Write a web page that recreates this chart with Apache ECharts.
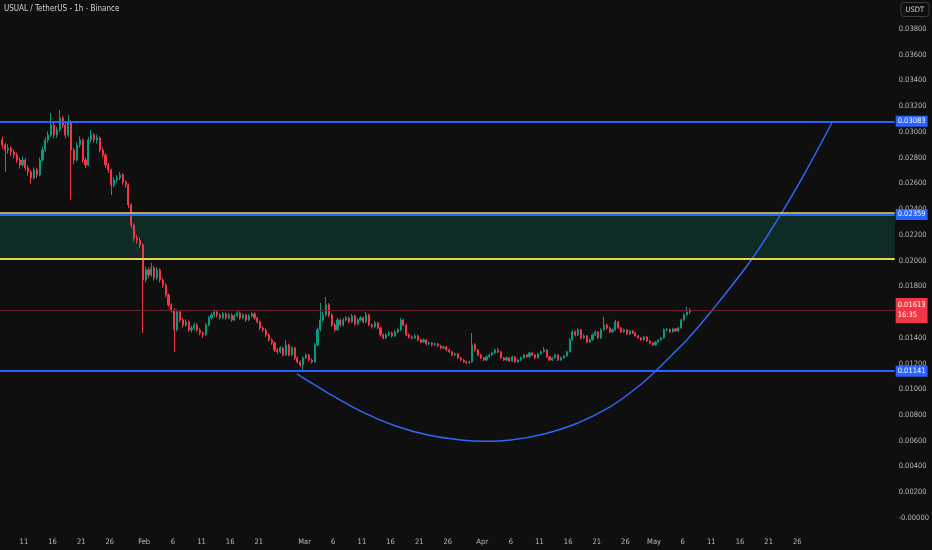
<!DOCTYPE html>
<html><head><meta charset="utf-8">
<script src="https://cdn.jsdelivr.net/npm/echarts@6/dist/echarts.min.js"></script>
<style>html,body{margin:0;padding:0;background:#0f0f0f;}#c{width:932px;height:550px;}</style>
</head><body><div id="c"></div>
<script>
// Time is expressed in days since 1 Jan 2025 (Jan 1 = 0). Candles are 12h aggregates.
const FIRST_CANDLE_DAY = 6.25;
const CANDLE_STEP = 0.5;

const opens = [
0.02938,0.02899,0.02860,0.02876,0.02844,0.02821,0.02782,0.02743,0.02782,0.02720,
0.02689,0.02642,0.02705,0.02666,0.02782,0.02860,0.02938,0.02976,0.03054,0.02976,
0.03015,0.03109,0.03054,0.02976,0.03078,0.02860,0.02782,0.02899,0.02938,0.02782,
0.02743,0.02938,0.02976,0.02938,0.02953,0.02860,0.02821,0.02743,0.02705,0.02588,
0.02627,0.02642,0.02666,0.02611,0.02588,0.02433,0.02277,0.02176,0.02161,0.02122,
0.01850,0.01928,0.01889,0.01943,0.01866,0.01928,0.01850,0.01811,0.01733,0.01656,
0.01617,0.01462,0.01601,0.01539,0.01500,0.01524,0.01462,0.01477,0.01500,0.01462,
0.01438,0.01423,0.01500,0.01555,0.01578,0.01601,0.01578,0.01555,0.01586,0.01555,
0.01578,0.01539,0.01570,0.01593,0.01555,0.01578,0.01539,0.01570,0.01586,0.01555,
0.01524,0.01477,0.01462,0.01423,0.01384,0.01360,0.01306,0.01291,0.01322,0.01267,
0.01345,0.01267,0.01322,0.01244,0.01213,0.01189,0.01244,0.01267,0.01228,0.01213,
0.01345,0.01462,0.01539,0.01578,0.01656,0.01578,0.01500,0.01462,0.01539,0.01500,
0.01539,0.01555,0.01524,0.01570,0.01508,0.01539,0.01555,0.01524,0.01578,0.01500,
0.01485,0.01516,0.01477,0.01423,0.01399,0.01423,0.01438,0.01415,0.01446,0.01462,
0.01539,0.01500,0.01423,0.01407,0.01399,0.01415,0.01384,0.01368,0.01384,0.01353,
0.01360,0.01345,0.01353,0.01337,0.01322,0.01329,0.01306,0.01291,0.01267,0.01275,
0.01244,0.01228,0.01213,0.01205,0.01213,0.01345,0.01306,0.01267,0.01244,0.01228,
0.01252,0.01267,0.01283,0.01306,0.01291,0.01244,0.01228,0.01244,0.01220,0.01252,
0.01213,0.01228,0.01244,0.01267,0.01252,0.01283,0.01267,0.01244,0.01275,0.01291,
0.01306,0.01252,0.01228,0.01244,0.01267,0.01228,0.01244,0.01259,0.01291,0.01384,
0.01446,0.01423,0.01462,0.01399,0.01415,0.01368,0.01384,0.01423,0.01446,0.01399,
0.01462,0.01500,0.01477,0.01446,0.01462,0.01524,0.01477,0.01446,0.01462,0.01430,
0.01454,0.01438,0.01415,0.01399,0.01384,0.01407,0.01376,0.01360,0.01345,0.01368,
0.01384,0.01399,0.01462,0.01465,0.01446,0.01469,0.01454,0.01477,0.01539,0.01578,
0.01601
];
const closes = [
0.02899,0.02860,0.02876,0.02844,0.02821,0.02782,0.02743,0.02782,0.02720,0.02689,
0.02642,0.02705,0.02666,0.02782,0.02860,0.02938,0.02976,0.03054,0.02976,0.03015,
0.03109,0.03054,0.02976,0.03078,0.02860,0.02782,0.02899,0.02938,0.02782,0.02743,
0.02938,0.02976,0.02938,0.02953,0.02860,0.02821,0.02743,0.02705,0.02588,0.02627,
0.02642,0.02666,0.02611,0.02588,0.02433,0.02277,0.02176,0.02161,0.02122,0.01850,
0.01928,0.01889,0.01943,0.01866,0.01928,0.01850,0.01811,0.01733,0.01656,0.01617,
0.01462,0.01601,0.01539,0.01500,0.01524,0.01462,0.01477,0.01500,0.01462,0.01438,
0.01423,0.01500,0.01555,0.01578,0.01601,0.01578,0.01555,0.01586,0.01555,0.01578,
0.01539,0.01570,0.01593,0.01555,0.01578,0.01539,0.01570,0.01586,0.01555,0.01524,
0.01477,0.01462,0.01423,0.01384,0.01360,0.01306,0.01291,0.01322,0.01267,0.01345,
0.01267,0.01322,0.01244,0.01213,0.01189,0.01244,0.01267,0.01228,0.01213,0.01345,
0.01462,0.01539,0.01578,0.01656,0.01578,0.01500,0.01462,0.01539,0.01500,0.01539,
0.01555,0.01524,0.01570,0.01508,0.01539,0.01555,0.01524,0.01578,0.01500,0.01485,
0.01516,0.01477,0.01423,0.01399,0.01423,0.01438,0.01415,0.01446,0.01462,0.01539,
0.01500,0.01423,0.01407,0.01399,0.01415,0.01384,0.01368,0.01384,0.01353,0.01360,
0.01345,0.01353,0.01337,0.01322,0.01329,0.01306,0.01291,0.01267,0.01275,0.01244,
0.01228,0.01213,0.01205,0.01213,0.01345,0.01306,0.01267,0.01244,0.01228,0.01252,
0.01267,0.01283,0.01306,0.01291,0.01244,0.01228,0.01244,0.01220,0.01252,0.01213,
0.01228,0.01244,0.01267,0.01252,0.01283,0.01267,0.01244,0.01275,0.01291,0.01306,
0.01252,0.01228,0.01244,0.01267,0.01228,0.01244,0.01259,0.01291,0.01384,0.01446,
0.01423,0.01462,0.01399,0.01415,0.01368,0.01384,0.01423,0.01446,0.01399,0.01462,
0.01500,0.01477,0.01446,0.01462,0.01524,0.01477,0.01446,0.01462,0.01430,0.01454,
0.01438,0.01415,0.01399,0.01384,0.01407,0.01376,0.01360,0.01345,0.01368,0.01384,
0.01399,0.01462,0.01465,0.01446,0.01469,0.01454,0.01477,0.01539,0.01578,0.01601,
0.01613
];
const lows = [
0.02870,0.02689,0.02830,0.02815,0.02795,0.02760,0.02715,0.02730,0.02700,0.02660,
0.02596,0.02630,0.02640,0.02655,0.02770,0.02845,0.02915,0.02960,0.02950,0.02955,
0.03000,0.03030,0.02950,0.02960,0.02472,0.02750,0.02770,0.02880,0.02760,0.02720,
0.02735,0.02920,0.02915,0.02910,0.02840,0.02800,0.02720,0.02680,0.02510,0.02570,
0.02605,0.02625,0.02590,0.02565,0.02410,0.02250,0.02150,0.02130,0.02095,0.01438,
0.01830,0.01865,0.01875,0.01845,0.01850,0.01830,0.01790,0.01715,0.01640,0.01595,
0.01291,0.01450,0.01520,0.01480,0.01485,0.01445,0.01440,0.01460,0.01445,0.01420,
0.01399,0.01415,0.01490,0.01540,0.01565,0.01560,0.01540,0.01545,0.01540,0.01545,
0.01525,0.01530,0.01560,0.01540,0.01545,0.01525,0.01530,0.01560,0.01540,0.01510,
0.01460,0.01445,0.01405,0.01370,0.01345,0.01290,0.01275,0.01280,0.01255,0.01260,
0.01255,0.01260,0.01230,0.01200,0.01175,0.01143,0.01235,0.01215,0.01200,0.01205,
0.01335,0.01450,0.01525,0.01565,0.01560,0.01485,0.01445,0.01455,0.01488,0.01490,
0.01528,0.01512,0.01515,0.01495,0.01498,0.01528,0.01512,0.01515,0.01490,0.01472,
0.01475,0.01465,0.01410,0.01388,0.01390,0.01412,0.01402,0.01405,0.01435,0.01452,
0.01488,0.01412,0.01395,0.01388,0.01390,0.01372,0.01358,0.01360,0.01342,0.01345,
0.01335,0.01338,0.01328,0.01312,0.01315,0.01296,0.01282,0.01258,0.01260,0.01235,
0.01218,0.01205,0.01196,0.01198,0.01206,0.01295,0.01258,0.01235,0.01220,0.01220,
0.01245,0.01258,0.01275,0.01282,0.01236,0.01220,0.01220,0.01212,0.01214,0.01205,
0.01206,0.01222,0.01238,0.01244,0.01246,0.01258,0.01236,0.01238,0.01268,0.01285,
0.01244,0.01220,0.01220,0.01238,0.01220,0.01222,0.01238,0.01252,0.01285,0.01376,
0.01410,0.01415,0.01388,0.01390,0.01358,0.01360,0.01378,0.01415,0.01390,0.01392,
0.01455,0.01465,0.01436,0.01440,0.01455,0.01468,0.01438,0.01440,0.01422,0.01424,
0.01430,0.01408,0.01392,0.01376,0.01378,0.01368,0.01352,0.01338,0.01340,0.01362,
0.01378,0.01392,0.01450,0.01438,0.01440,0.01446,0.01448,0.01470,0.01530,0.01570,
0.01585
];
const highs = [
0.02965,0.02915,0.02905,0.02890,0.02865,0.02840,0.02800,0.02810,0.02795,0.02740,
0.02705,0.02725,0.02720,0.02800,0.02885,0.02960,0.03005,0.03147,0.03070,0.03040,
0.03171,0.03125,0.03070,0.03132,0.03090,0.02875,0.02920,0.02965,0.02950,0.02800,
0.02960,0.03015,0.02990,0.02980,0.02965,0.02880,0.02835,0.02760,0.02715,0.02650,
0.02665,0.02690,0.02680,0.02625,0.02600,0.02445,0.02290,0.02200,0.02180,0.02135,
0.01955,0.01950,0.01982,0.01960,0.01950,0.01940,0.01865,0.01825,0.01745,0.01670,
0.01630,0.01620,0.01615,0.01555,0.01545,0.01535,0.01495,0.01520,0.01515,0.01475,
0.01450,0.01515,0.01570,0.01595,0.01620,0.01615,0.01590,0.01600,0.01598,0.01595,
0.01590,0.01585,0.01610,0.01605,0.01592,0.01590,0.01585,0.01600,0.01598,0.01565,
0.01535,0.01490,0.01475,0.01435,0.01395,0.01372,0.01320,0.01335,0.01330,0.01384,
0.01355,0.01335,0.01330,0.01255,0.01225,0.01255,0.01280,0.01275,0.01240,0.01360,
0.01480,0.01671,0.01600,0.01718,0.01670,0.01590,0.01515,0.01555,0.01550,0.01555,
0.01570,0.01565,0.01585,0.01580,0.01552,0.01568,0.01565,0.01601,0.01588,0.01512,
0.01530,0.01525,0.01488,0.01432,0.01435,0.01450,0.01448,0.01458,0.01475,0.01555,
0.01548,0.01508,0.01435,0.01418,0.01428,0.01425,0.01395,0.01395,0.01392,0.01370,
0.01368,0.01362,0.01360,0.01345,0.01340,0.01338,0.01315,0.01298,0.01285,0.01282,
0.01252,0.01236,0.01222,0.01224,0.01438,0.01358,0.01315,0.01275,0.01252,0.01262,
0.01278,0.01292,0.01315,0.01322,0.01298,0.01252,0.01255,0.01252,0.01262,0.01258,
0.01238,0.01254,0.01276,0.01275,0.01292,0.01290,0.01274,0.01284,0.01300,0.01329,
0.01312,0.01258,0.01252,0.01276,0.01272,0.01254,0.01268,0.01300,0.01398,0.01460,
0.01458,0.01475,0.01470,0.01428,0.01422,0.01395,0.01435,0.01458,0.01452,0.01475,
0.01562,0.01512,0.01485,0.01474,0.01539,0.01530,0.01485,0.01472,0.01468,0.01462,
0.01460,0.01445,0.01422,0.01406,0.01415,0.01412,0.01382,0.01366,0.01375,0.01392,
0.01408,0.01472,0.01475,0.01472,0.01478,0.01475,0.01485,0.01550,0.01592,0.01640,
0.01630
];

// Drawn annotations
const levelHigh = 0.03083;
const levelZoneTopLine = 0.02359;
const zoneTop = 0.02373;
const zoneBottom = 0.02012;
const levelLow = 0.01141;
const lastPrice = 0.01613;
const lastPriceTimer = '16:35';
const arcDays   = [57.65,63.16,68.95,74.75,80.53,86.32,90.39,95.01,100.81,106.59,112.38,117.02,119.92,123.10,125.71,129.75,137.00,142.21,145.98,151.19];
const arcValues = [0.01119,0.00969,0.00826,0.00717,0.00645,0.00606,0.00596,0.00606,0.00653,0.00736,0.00865,0.01014,0.01127,0.01267,0.01383,0.01593,0.02007,0.02366,0.02652,0.03083];

// Axis ticks
const xTickDays   = [10,15,20,25,31,36,41,46,51,59,64,69,74,79,84,90,95,100,105,110,115,120,125,130,135,140,145];
const xTickLabels = ['11','16','21','26','Feb','6','11','16','21','Mar','6','11','16','21','26','Apr','6','11','16','21','26','May','6','11','16','21','26'];
const yTickValues = [0,0.002,0.004,0.006,0.008,0.010,0.012,0.014,0.016,0.018,0.020,0.022,0.024,0.026,0.028,0.030,0.032,0.034,0.036,0.038];
const yTickLabels = ['-0.00000','0.00200','0.00400','0.00600','0.00800','0.01000','0.01200','0.01400','0.01600','0.01800','0.02000','0.02200','0.02400','0.02600','0.02800','0.03000','0.03200','0.03400','0.03600','0.03800'];

const chartTitle = 'USUAL / TetherUS - 1h - Binance';
const currencyTag = 'USDT';

const FONT = "'Liberation Sans Narrow','Arial Narrow','DejaVu Sans Condensed',Roboto,sans-serif";
const lookup = (vals, labels, v) => { for (let i = 0; i < vals.length; i++) if (Math.abs(vals[i] - v) < 1e-7) return labels[i]; return ''; };

const candleData = opens.map((o, i) => [FIRST_CANDLE_DAY + i * CANDLE_STEP, o, closes[i], lows[i], highs[i]]);
const arcData = arcDays.map((d, i) => [d, arcValues[i]]);

const BLUE = '#2962ff';
const badge = (bg) => ({show: true, position: 'end', distance: 1, color: '#ffffff', backgroundColor: bg,
  padding: [2, 2, 1, 2], fontSize: 7.5, fontFamily: FONT, lineHeight: 8});

const chart = echarts.init(document.getElementById('c'), null, {renderer: 'canvas'});
chart.setOption({
  backgroundColor: '#0f0f0f',
  animation: false,
  title: [
    {text: chartTitle, left: 4, top: 5, padding: 0,
     textStyle: {color: '#d1d4dc', fontSize: 8, fontWeight: 'normal', fontFamily: FONT}},
    {text: currencyTag, right: 3, top: 2, padding: [4, 5, 3, 5], borderColor: '#3a3d45', borderWidth: 1, borderRadius: 3,
     textStyle: {color: '#d1d4dc', fontSize: 7.5, fontWeight: 'normal', fontFamily: FONT}}
  ],
  grid: {left: 0, right: 33, top: 0, bottom: 22, containLabel: false},
  xAxis: {
    type: 'value', min: 5.83, max: 162.0,
    axisLine: {show: false}, axisTick: {show: false}, splitLine: {show: false},
    axisLabel: {customValues: xTickDays, color: '#b7b9bf', fontSize: 7.5, fontFamily: FONT, margin: 10,
      formatter: (v) => lookup(xTickDays, xTickLabels, v)}
  },
  yAxis: {
    type: 'value', position: 'right', min: -0.00078, max: 0.040255, scale: true,
    axisLine: {show: false}, axisTick: {show: false}, splitLine: {show: false},
    axisLabel: {customValues: yTickValues, color: '#b7b9bf', fontSize: 7.5, fontFamily: FONT, margin: 4,
      formatter: (v) => lookup(yTickValues, yTickLabels, v)}
  },
  series: [
    {
      type: 'candlestick', data: candleData, barWidth: 1.6, z: 3,
      itemStyle: {color: '#089981', color0: '#f23645', borderColor: '#089981', borderColor0: '#f23645', borderWidth: 1},
      markArea: {silent: true, precision: 6, itemStyle: {color: '#0f2b25'},
        data: [[{yAxis: zoneBottom}, {yAxis: zoneTop}]]},
      markLine: {
        silent: true, precision: 6, symbol: ['none', 'none'], animation: false,
        data: [
          {yAxis: lastPrice, lineStyle: {color: '#6e2129', width: 1, type: 'solid'},
           label: Object.assign(badge('#f23645'), {formatter: lastPrice.toFixed(5) + '\n' + lastPriceTimer, padding: [3, 2, 2, 2], lineHeight: 10})},
          {yAxis: zoneTop, lineStyle: {color: '#e9d64c', width: 1.5, type: 'solid'}, label: {show: false}},
          {yAxis: zoneBottom, lineStyle: {color: '#e9d64c', width: 2, type: 'solid'}, label: {show: false}},
          {yAxis: levelHigh, lineStyle: {color: BLUE, width: 2, type: 'solid'},
           label: Object.assign(badge(BLUE), {formatter: levelHigh.toFixed(5)})},
          {yAxis: levelZoneTopLine, lineStyle: {color: BLUE, width: 2, type: 'solid'},
           label: Object.assign(badge(BLUE), {formatter: levelZoneTopLine.toFixed(5)})},
          {yAxis: levelLow, lineStyle: {color: BLUE, width: 2, type: 'solid'},
           label: Object.assign(badge(BLUE), {formatter: levelLow.toFixed(5)})}
        ]
      }
    },
    {
      type: 'line', data: arcData, smooth: 0.35, symbol: 'none', z: 4, silent: true,
      lineStyle: {color: '#2f66f2', width: 1.5}
    }
  ]
});
</script>
</body></html>
